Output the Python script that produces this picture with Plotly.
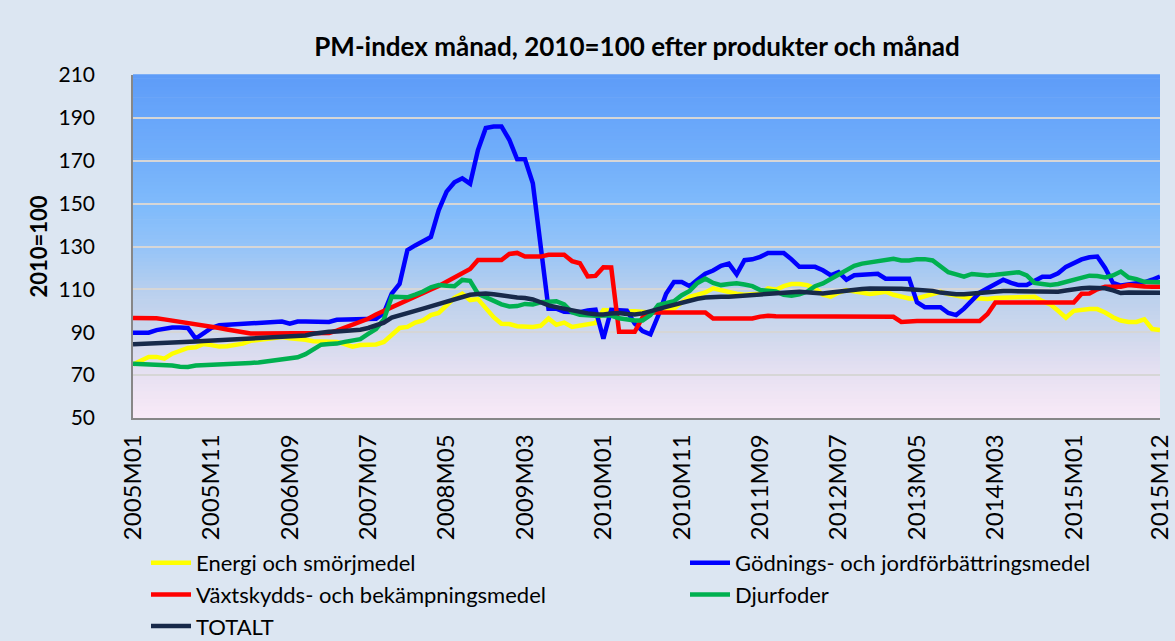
import plotly.graph_objects as go

# ---- data ----
months = [f"{y}M{m:02d}" for y in range(2005, 2016) for m in range(1, 13)]

energi = [75, 76.5, 78.5, 78.5, 77.7, 80, 81.5, 82.7, 83, 84.5,
          84, 83.3, 83.5, 84, 84.7, 86, 86.5, 87, 87.5, 87.8,
          87.2, 87, 86.5, 85.8, 85.8, 85.8, 85.5, 84.5, 83.3, 84,
          84.2, 84.3, 85.5, 89, 92, 92.5, 94.5, 95.5, 98, 99,
          102.5, 106, 108, 105, 105.5, 101.5, 97, 94, 93.8, 92.8,
          92.5, 92.5, 93, 96.4, 93.5, 94.5, 92.5, 93, 93.5, 94.3,
          100.3, 100, 99.8, 99.8, 99.8, 99.5, 99.2, 99.8, 100.3, 101,
          104, 106.5, 107.5, 108.6, 110.5, 109.5, 108.6, 108, 107.5, 107.6,
          108, 110.5, 109.8, 111.5, 112.5, 112.5, 112, 110.5, 107.5, 106.6,
          108.5, 109.7, 109, 108.5, 107.8, 108.3, 108.9, 107.5, 106.5, 105.8,
          105.8, 106.8, 108, 108.9, 107.8, 107, 106.4, 106, 105.8, 105.5,
          106, 106.2, 106.5, 106.6, 106.6, 106.6, 104.5, 103, 100, 96.8,
          100, 100.5, 100.8, 100.8, 99.2, 97, 95.5, 94.8, 94.8, 96,
          91.5, 91]

godning = [89.8, 89.8, 89.8, 91, 91.8, 92.2, 92.2, 92, 87, 89.5,
           92, 93.3, 93.5, 93.7, 94, 94.6, 94.8, 95, 95.1, 95,
           94, 95, 95, 94.8, 94.8, 94.8, 95.8, 95.9, 95.9, 95.9,
           96, 96.3, 99, 108, 112.5, 128.3, 130.5, 132.5, 134.5, 147,
           155.6, 160, 161.8, 159.3, 175, 185.3, 186, 186, 179.8, 170.7,
           170.7, 159.5, 130, 101, 101, 99.5, 99.4, 99.4, 100.2, 100.5,
           87, 100.5, 100.3, 100.1, 94, 90.5, 89, 97.8, 108, 113.4,
           113.4, 111.5, 114.5, 117.3, 118.8, 121, 122, 117, 123.6, 124,
           125.2, 127, 127, 127, 124, 120.5, 120.5, 120.5, 118.9, 116.6,
           118, 114.5, 116.6, 117, 117.2, 117.3, 115, 115, 115, 115,
           104, 101.7, 101.7, 101.7, 99, 98, 101, 105, 108.5, 110.5,
           112.5, 114.5, 113, 112, 112, 114, 115.9, 115.9, 117.5, 120.5,
           122.5, 124, 125, 125.3, 120, 113, 111.8, 112.2, 112.8, 113.3,
           114.5, 116]

vaxtskydd = [96.7, 96.7, 97, 96.5, 96, 95.5, 95, 94.4, 93.8, 93.2,
             92.6, 92, 91.3, 90.6, 89.8, 89.4, 89.4, 89.4, 89.4, 89.5,
             89.5, 89.6, 89.7, 89.7, 89.7, 89.7, 90.8, 92.2, 93.5, 95,
             96.3, 98.3, 100, 102, 103.7, 105, 106.7, 108.3, 110, 111.6,
             113.5, 115.5, 117.5, 119.5, 123.7, 123.7, 123.7, 123.7, 126.5, 127,
             125.3, 125.3, 125.3, 126.1, 126.1, 126.1, 123.2, 122.2, 116, 116.3,
             120.3, 120.2, 90.2, 90.2, 90.2, 97, 99.2, 99.2, 99.2, 99.2,
             99.2, 99.2, 99.2, 99.2, 96.4, 96.4, 96.4, 96.4, 96.4, 96.4,
             97.3, 97.7, 97.5, 97.5, 97.4, 97.4, 97.3, 97.3, 97.3, 97.2,
             97.2, 97.2, 97.2, 97.2, 97.2, 97.2, 97.2, 97.2, 94.8, 95.3,
             95.3, 95.3, 95.3, 95.3, 95.3, 95.3, 95.3, 95.3, 95.3, 98.5,
             103.9, 103.9, 103.9, 103.9, 103.9, 103.9, 103.9, 103.9, 103.9, 103.9,
             103.9, 108, 108.1, 110, 111.25, 111.25, 111.25, 112, 111.5, 111.3,
             111.25, 111.25]

djurfoder = [75.3, 75.2, 75.2, 75, 75, 74.5, 73.9, 73.8, 74.5, 74.6,
             74.8, 75, 75.1, 75.3, 75.5, 75.7, 75.9, 76.3, 77.2, 77.4,
             77.7, 78.3, 79.8, 82, 84.2, 84.5, 84.7, 85.5, 86.2, 86.8,
             89.2, 91.5, 96, 106.6, 106.5, 106.3, 107.6, 109, 111, 112,
             111.7, 111.5, 114.4, 114, 108, 106.2, 104.8, 103, 102, 102.2,
             103.2, 103, 104, 104.5, 104.5, 103, 99.3, 98.2, 97.8, 97.7,
             97.8, 97.8, 96.5, 95.9, 95.5, 95.5, 98, 102.7, 103.4, 104.5,
             107.3, 109.3, 113, 115, 113, 112, 112.5, 112.8, 112.3, 111.5,
             109.7, 109.5, 109, 107.5, 107, 107.7, 109, 111.5, 112.8, 114.8,
             116.7, 119, 121, 122, 122.6, 123, 123.8, 124.3, 123.5, 123.5,
             124.1, 124.1, 123.5, 120.5, 118, 117, 115.9, 117.2, 116.8, 116.5,
             116.8, 117.3, 117.8, 118, 116.5, 113, 112.5, 112, 112.5, 113.5,
             114.8, 115.9, 116.4, 116.2, 115.6, 116.5, 118.3, 115.5, 114.8, 113.5,
             113.3, 113.3]

totalt = [84.4, 84.5, 84.7, 84.9, 85.1, 85.2, 85.4, 85.5, 85.7, 85.9,
          86.1, 86.3, 86.5, 86.8, 87, 87.2, 87.4, 87.5, 87.7, 87.8,
          88, 88.1, 88.5, 89.3, 89.9, 90.2, 90.4, 90.6, 90.8, 91.2,
          92, 93.2, 94.5, 96.8, 98, 99, 100, 101, 102.1, 103.4,
          104.5, 105.8, 106.8, 107.5, 107.8, 108.1, 107.7, 107.1, 106.6, 106.2,
          106, 105.3, 104, 102.5, 101.7, 101, 100, 99.2, 98.8, 98.4,
          98.3, 98.8, 99, 98.5, 98.3, 98.8, 99.6, 100.8, 101.8, 102.8,
          103.5, 104.3, 105.6, 106.2, 106.6, 106.6, 106.6, 106.9, 107.2, 107.6,
          108, 108.2, 108.3, 108.5, 108.7, 108.9, 108.6, 108.1, 108.1, 108.5,
          109, 109.5, 109.9, 110.2, 110.4, 110.5, 110.5, 110.5, 110.3, 110.1,
          110, 109.7, 109.3, 108.5, 107.9, 107.7, 107.7, 108, 108.6, 108.9,
          109, 109.2, 109.2, 109.1, 109, 108.9, 108.9, 108.9, 108.9, 109.5,
          110.2, 110.5, 110.7, 110.8, 110.5, 109.5, 108.3, 108.5, 108.6, 108.5,
          108.4, 108.4]

series_names = ["Energi och smörjmedel", "Gödnings- och jordförbättringsmedel",
                "Växtskydds- och bekämpningsmedel", "Djurfoder", "TOTALT"]
series_values = [energi, godning, vaxtskydd, djurfoder, totalt]
series_colors = ["#FFFF00", "#0000FF", "#FF0000", "#00B050", "#17294A"]
series_legend = ["legend", "legend2", "legend", "legend2", "legend"]

tick_labels = ["2005M01", "2005M11", "2006M09", "2007M07", "2008M05", "2009M03",
               "2010M01", "2010M11", "2011M09", "2012M07", "2013M05", "2014M03",
               "2015M01", "2015M12"]
y_ticks = list(range(50, 211, 20))

FONT = "Lato, Carlito, Calibri, sans-serif"

fig = go.Figure()
for name, vals, col, lg in zip(series_names, series_values, series_colors, series_legend):
    fig.add_trace(go.Scatter(x=months, y=vals, name=name, mode="lines",
                             line=dict(color=col, width=4.5), legend=lg))

# gradient plot background via thin bands
stops = [(0.0, (249, 234, 247)), (0.12, (232, 225, 242)), (0.25, (206, 216, 236)),
         (0.375, (183, 207, 238)), (0.5, (148, 195, 248)), (0.6, (130, 188, 251)),
         (0.75, (114, 175, 250)), (0.875, (104, 166, 250)), (1.0, (94, 156, 248))]

def col_at(f):
    for (f0, c0), (f1, c1) in zip(stops[:-1], stops[1:]):
        if f0 <= f <= f1:
            t = (f - f0) / (f1 - f0) if f1 > f0 else 0
            return "rgb(%d,%d,%d)" % tuple(round(a + (b - a) * t) for a, b in zip(c0, c1))
    return "rgb(%d,%d,%d)" % stops[-1][1]

shapes = []
N = 90
for k in range(N):
    f0, f1 = k / N, (k + 1) / N
    shapes.append(dict(type="rect", xref="x domain", yref="y domain",
                       x0=0, x1=1, y0=f0, y1=f1 + 0.002, layer="below",
                       line=dict(width=0), fillcolor=col_at((f0 + f1) / 2)))

legend_common = dict(orientation="v", xref="container", yref="container",
                     yanchor="top", xanchor="left", font=dict(size=22),
                     bgcolor="rgba(0,0,0,0)", itemwidth=40, tracegroupgap=0,
                     traceorder="normal")

fig.update_layout(
    width=1175, height=641,
    paper_bgcolor="#DCE6F2", plot_bgcolor="rgba(0,0,0,0)",
    margin=dict(l=133, r=15, t=75, b=223, autoexpand=False),
    shapes=shapes,
    title=dict(text="<b>PM-index månad, 2010=100 efter produkter och månad</b>",
               x=637 / 1175, xanchor="center", y=1 - 47 / 641, yanchor="middle",
               font=dict(family=FONT, size=26, color="#000000")),
    font=dict(family=FONT, color="#000000"),
    xaxis=dict(type="category", range=[0, len(months) - 1], automargin=False,
               tickmode="array", tickvals=tick_labels, ticktext=tick_labels,
               tickangle=-90, tickfont=dict(size=24), showgrid=False,
               showline=True, linecolor="#878787", linewidth=1.5, ticks="",
               ticklabelstandoff=5, zeroline=False),
    yaxis=dict(range=[50, 210], tickvals=y_ticks, tickfont=dict(size=21),
               automargin=False,
               showgrid=True, gridcolor="#D6D6D6", gridwidth=2,
               showline=True, linecolor="#878787", linewidth=1.5, ticks="",
               ticklabelstandoff=32, zeroline=False),
    annotations=[dict(text="<b>2010=100</b>", textangle=-90, showarrow=False,
                      xref="paper", yref="paper", x=(38 - 133) / 1027, y=0.5,
                      xanchor="center", yanchor="middle",
                      font=dict(family=FONT, size=22, color="#000000"))],
    legend=dict(x=146 / 1175, y=1 - 542 / 641, **legend_common),
    legend2=dict(x=685 / 1175, y=1 - 542 / 641, **legend_common),
    showlegend=True,
)

fig.write_html("out.html", config={"displayModeBar": False},
               post_script="document.body.style.margin='0px';")
